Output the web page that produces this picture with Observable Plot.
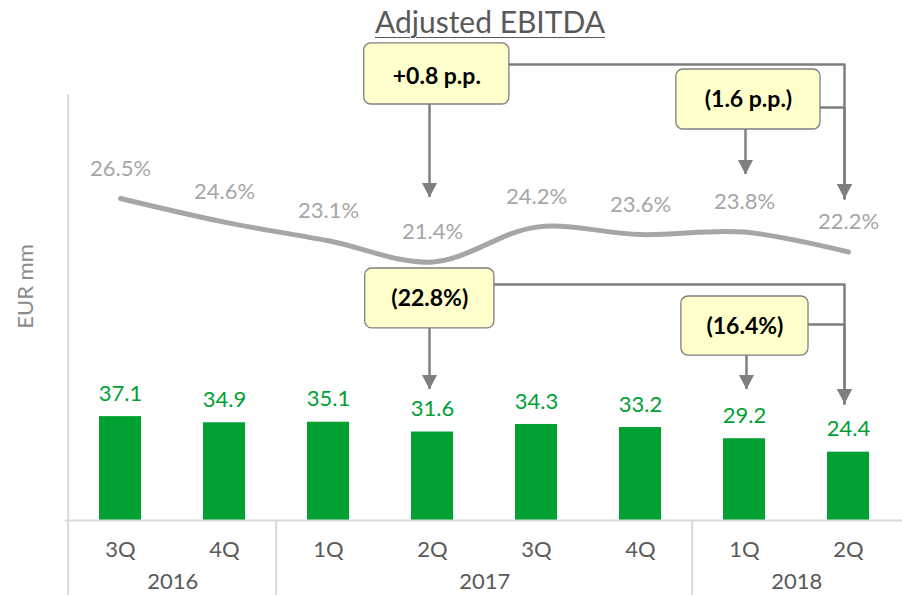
<!DOCTYPE html>
<html>
<head>
<meta charset="utf-8">
<script src="https://cdn.jsdelivr.net/npm/d3@7"></script>
<script src="https://cdn.jsdelivr.net/npm/@observablehq/plot@0.6"></script>
<style>
  body { margin: 0; background: #fff; font-family: Lato, "Open Sans", sans-serif; }
  #title { width: 902px; height: 40px; box-sizing: border-box; padding-left: 78px; text-align: center;
           line-height: 40px; font-size: 30px; color: #595959; }
  #title span { position: relative; top: 1px; text-decoration: underline; text-decoration-thickness: 1px; text-underline-offset: 4px; }
  #chart { position: relative; width: 902px; height: 555px; }
  #chart svg { position: absolute; left: 0; top: 0; }
</style>
</head>
<body>
<div id="title"><span>Adjusted EBITDA</span></div>
<div id="chart"></div>
<script>
// ---------- data ----------
const quarters = ["3Q", "4Q", "1Q", "2Q", "3Q", "4Q", "1Q", "2Q"];
const years    = ["2016", "2016", "2017", "2017", "2017", "2017", "2018", "2018"];
const ebitda   = [37.1, 34.9, 35.1, 31.6, 34.3, 33.2, 29.2, 24.4];          // EUR mm
const marginPct = [26.5, 24.6, 23.1, 21.4, 24.2, 23.6, 23.8, 22.2];         // %
const yearLabels = ["2016", "2017", "2018"];
const annLabels = ["+0.8 p.p.", "(1.6 p.p.)", "(22.8%)", "(16.4%)"];
const annFrom   = ["2Q 2017", "1Q 2018", "2Q 2017", "1Q 2018"];
const annTo     = "2Q 2018";

// ---------- layout ----------
const W = 902, H = 555, ML = 65, MR = 0, MT = 32, MB = 75;
const green = "#00a033", lineGrey = "#a6a6a6", axisGrey = "#d9d9d9", textGrey = "#595959", arrowGrey = "#7f7f7f";
const FS = 22;
const keys = quarters.map((q, i) => q + " " + years[i]);
const rows = keys.map((k, i) => ({key: k, q: quarters[i], year: years[i], v: ebitda[i], m: marginPct[i]}));
const step = (W - ML - MR) / keys.length;
const xScale = {type: "band", domain: keys, paddingInner: 0.6, paddingOuter: 0.3, axis: null};

// year label anchors: middle of each year's quarters
const yearRows = yearLabels.map(y => {
  const idx = years.map((d, i) => d === y ? i : -1).filter(i => i >= 0);
  const mid = (idx[0] + idx[idx.length - 1]) / 2;
  return {year: y, key: keys[Math.floor(mid)], off: (mid - Math.floor(mid)) * step};
});

// annotation placement (in the value units of the scale each one lives in)
const annLayout = [
  {scale: "pct", top: 38.95, bottom: 34.05, textY: 36.3, link: 37.26, tip: 26.58, toTip: 26.5, inL: -47.3, inR: -55.9, dx: -3},
  {scale: "pct", top: 36.86, bottom: 32.04, textY: 34.45, link: 33.81, tip: 28.43, toTip: 26.5, inL: -47.1, inR: -55, dx: 1},
  {scale: "eur", top: 90.0, bottom: 68.6, textY: 79.3, link: 84.3, tip: 46.8, toTip: 41.8, inL: -46.3, inR: -40.9, dx: -3},
  {scale: "eur", top: 80.0, bottom: 58.9, textY: 69.3, link: 70.0, tip: 46.8, toTip: 41.8, inL: -42.1, inR: -43, dx: 2}
];
const anns = annLabels.map((label, i) => ({i, label, from: annFrom[i], to: annTo, ...annLayout[i]}));
const toDx = -4;

const downHead = {
  draw(ctx) { ctx.moveTo(0, 0); ctx.lineTo(-7.5, -14.5); ctx.lineTo(7.5, -14.5); ctx.closePath(); }
};

function annotationMarks(list) {
  const paths = list.flatMap(a => [
    {id: a.i, x: a.from, y: a.link},
    {id: a.i, x: a.to, y: a.link},
    {id: a.i, x: a.to, y: a.toTip}
  ]);
  const marks = [
    Plot.line(paths, {x: "x", y: "y", z: "id", stroke: arrowGrey, strokeWidth: 2.5, dx: toDx, curve: "linear"}),
    Plot.dot(list, {x: "to", y: "toTip", symbol: downHead, fill: arrowGrey, dx: toDx})
  ];
  for (const a of list) {
    marks.push(
      Plot.ruleX([a], {x: "from", y1: "bottom", y2: "tip", stroke: arrowGrey, strokeWidth: 2.5, dx: a.dx}),
      Plot.dot([a], {x: "from", y: "tip", symbol: downHead, fill: arrowGrey, dx: a.dx}),
      Plot.barY([a], {x: "from", y1: "bottom", y2: "top", insetLeft: a.inL, insetRight: a.inR, rx: 7,
                      fill: "#ffffcc", stroke: arrowGrey, strokeWidth: 1.3}),
      Plot.text([a], {x: "from", y: "textY", text: "label", dx: (a.inL - a.inR) / 2,
                      fontWeight: "bold", fontSize: 23, fill: "#000"})
    );
  }
  return marks;
}

const common = {width: W, height: H, marginLeft: ML, marginRight: MR, marginTop: MT, marginBottom: MB};

// ---------- main plot: bars (EUR mm) and axes ----------
const barPlot = Plot.plot({
  ...common,
  style: {fontFamily: "Lato, 'Open Sans', sans-serif", background: "white"},
  x: xScale,
  y: {domain: [0, 160], axis: null},
  marks: [
    Plot.barY(rows, {x: "key", y: "v", fill: green}),
    Plot.ruleY([0], {stroke: axisGrey, strokeWidth: 2}),
    Plot.ruleX([keys[0]], {y1: 152, y2: -27, dx: -step / 2, stroke: axisGrey, strokeWidth: 2}),
    Plot.ruleX(["1Q 2017", "1Q 2018"], {y1: 0, y2: -27, dx: -step / 2, stroke: axisGrey, strokeWidth: 2}),
    Plot.text(rows, {x: "key", y: "v", text: d => d.v.toFixed(1), dy: -23, fill: green, fontSize: FS}),
    Plot.text(rows, {x: "key", text: "q", frameAnchor: "bottom", lineAnchor: "middle", dy: 29, fill: textGrey, fontSize: FS}),
    ...yearRows.map(r => Plot.text([r], {x: "key", text: "year", frameAnchor: "bottom", lineAnchor: "middle",
                                         dx: r.off, dy: 61, fill: textGrey, fontSize: FS})),
    Plot.text(["EUR mm"], {frameAnchor: "left", textAnchor: "middle", lineAnchor: "middle", rotate: -90,
                           dx: -40, dy: -10, fill: "#8c8c8c", fontSize: FS}),
    ...annotationMarks(anns.filter(a => a.scale === "eur"))
  ]
});

// ---------- overlay plot: margin line (%) ----------
const pctPlot = Plot.plot({
  ...common,
  style: {fontFamily: "Lato, 'Open Sans', sans-serif", background: "transparent"},
  x: xScale,
  y: {domain: [20, 28], range: [238.9, 139.3], axis: null},
  marks: [
    Plot.line(rows, {x: "key", y: "m", curve: "catmull-rom", stroke: lineGrey, strokeWidth: 5, strokeLinecap: "round"}),
    Plot.text(rows, {x: "key", y: "m", text: d => d.m.toFixed(1) + "%", dy: -30, fill: lineGrey, fontSize: FS}),
    ...annotationMarks(anns.filter(a => a.scale === "pct"))
  ]
});

const chart = document.getElementById("chart");
chart.appendChild(barPlot);
chart.appendChild(pctPlot);
</script>
</body>
</html>
